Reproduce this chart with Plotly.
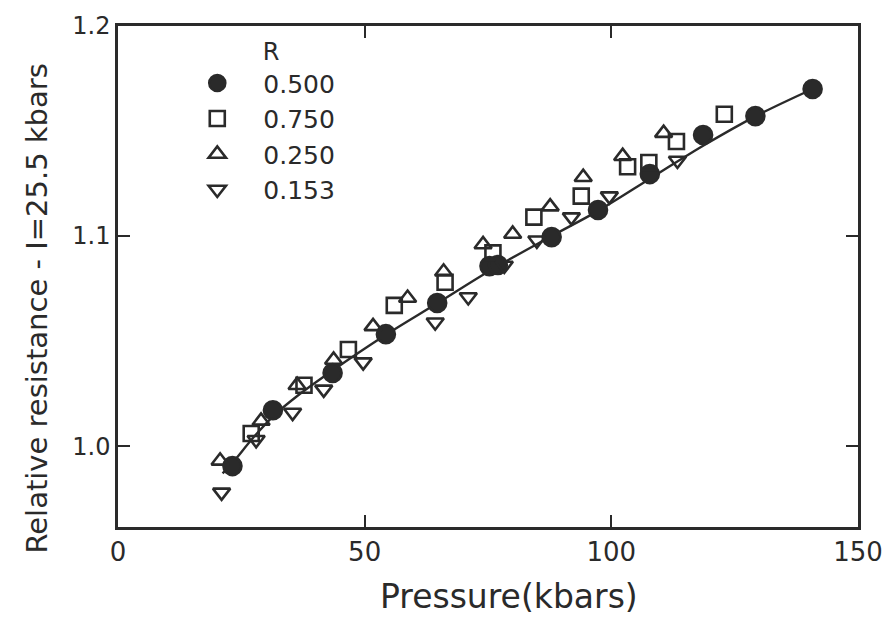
import plotly.graph_objects as go

# ---- data ----
x_500 = [23.2, 31.4, 43.5, 54.3, 64.7, 75.3, 77.0, 87.9, 97.3, 107.8, 118.6, 129.2, 140.8]
y_500 = [0.9905, 1.0171, 1.0348, 1.0533, 1.0681, 1.0857, 1.0862, 1.0995, 1.1124, 1.1295, 1.1481, 1.1571, 1.1700]

x_750 = [27.0, 37.7, 46.7, 56.0, 66.3, 76.0, 84.3, 93.9, 103.3, 107.6, 113.2, 122.9]
y_750 = [1.006, 1.029, 1.046, 1.067, 1.078, 1.092, 1.109, 1.119, 1.133, 1.135, 1.145, 1.158]

x_250 = [20.7, 29.0, 36.3, 43.7, 51.7, 58.7, 66.0, 74.0, 80.0, 87.6, 94.3, 102.3, 110.6]
y_250 = [0.993, 1.012, 1.029, 1.041, 1.057, 1.0705, 1.083, 1.096, 1.101, 1.114, 1.128, 1.138, 1.149]

x_153 = [21.0, 28.0, 35.4, 41.7, 49.7, 64.3, 71.0, 78.3, 84.9, 91.9, 99.6, 113.4]
y_153 = [0.978, 1.003, 1.016, 1.027, 1.040, 1.059, 1.071, 1.086, 1.098, 1.109, 1.119, 1.136]

curve_x = [21.2, 23.2, 27.4, 31.8, 36.4, 43.5, 54.3, 64.7, 75.7, 87.9, 97.3, 108.3, 118.6, 129.2, 140.8]
curve_y = [0.987, 0.992, 1.004, 1.015, 1.024, 1.036, 1.053, 1.068, 1.084, 1.100, 1.112, 1.128, 1.143, 1.157, 1.170]

x_ticks = [0, 50, 100, 150]
y_ticks = [1.0, 1.1, 1.2]
y_tick_text = ["1.0", "1.1", "1.2"]

x_title = "Pressure(kbars)"
y_title = "Relative resistance - I=25.5 kbars"

INK = "#2a2a2a"
FONT = "DejaVu Sans"

fig = go.Figure()

fig.add_trace(go.Scatter(
    x=curve_x, y=curve_y, mode="lines", line=dict(color=INK, width=2.4, shape="spline"),
    showlegend=False, hoverinfo="skip"))

series = [
    ("0.500", x_500, y_500, "circle"),
    ("0.750", x_750, y_750, "square-open"),
    ("0.250", x_250, y_250, "triangle-up-open"),
    ("0.153", x_153, y_153, "triangle-down-open"),
]
for name, xs, ys, sym in series:
    filled = sym == "circle"
    fig.add_trace(go.Scatter(
        x=xs, y=ys, mode="markers", name=name,
        marker=dict(symbol=sym, size=18 if filled else 15, color=INK,
                    line=dict(color=INK, width=2.6))))

fig.update_layout(
    width=895, height=617,
    margin=dict(l=118, r=25, t=23, b=90),
    paper_bgcolor="white", plot_bgcolor="white",
    font=dict(family=FONT, color=INK, size=22),
    legend=dict(
        x=0.072, y=0.994, xanchor="left", yanchor="top",
        bgcolor="rgba(0,0,0,0)", font=dict(size=25, family=FONT, color=INK),
        title=dict(text="&nbsp;&nbsp;&nbsp;&nbsp;R", side="top center",
                   font=dict(size=24, family=FONT, color=INK)),
        itemwidth=82, tracegroupgap=0,
    ),
    xaxis=dict(
        range=[0, 150], tickvals=x_ticks, ticks="inside", ticklen=12, tickwidth=2,
        tickcolor=INK, showline=True, linewidth=2.5, linecolor=INK, mirror="ticks",
        showgrid=False, zeroline=False, tickfont=dict(size=26, family=FONT, color=INK),
    ),
    yaxis=dict(
        range=[0.9615, 1.2], tickvals=y_ticks, ticktext=y_tick_text, ticks="inside", ticklen=12,
        tickwidth=2, tickcolor=INK, showline=True, linewidth=2.5, linecolor=INK, mirror="ticks",
        showgrid=False, zeroline=False, tickfont=dict(size=24, family=FONT, color=INK),
    ),
    annotations=[
        dict(text=x_title, xref="paper", yref="paper", x=(515 - 118) / 752, y=-(597 - 527) / 504,
             xanchor="center", yanchor="middle", showarrow=False,
             font=dict(size=33, family=FONT, color=INK)),
        dict(text=y_title, xref="paper", yref="paper", x=-(118 - 36) / 752, y=(527 - 307) / 504,
             xanchor="center", yanchor="middle", textangle=-90, showarrow=False,
             font=dict(size=29, family=FONT, color=INK)),
    ],
)

fig.write_html("out.html")
